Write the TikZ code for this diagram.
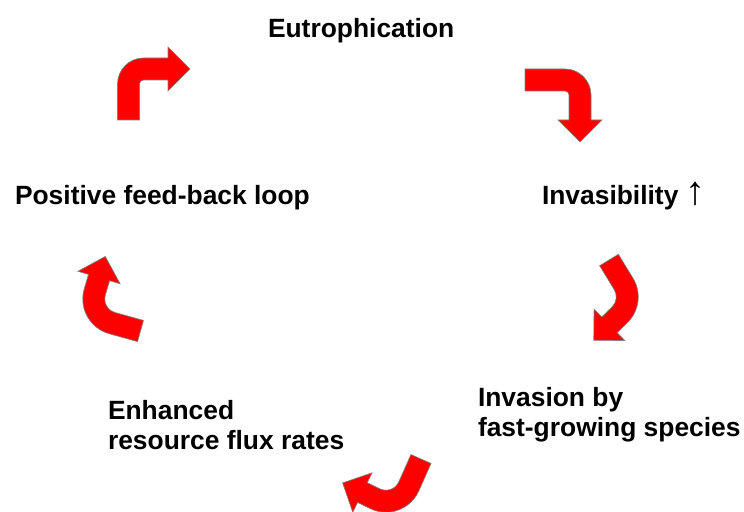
\documentclass[tikz,border=0pt]{standalone}
\usepackage{fontspec}
\setmainfont{Liberation Sans}

\definecolor{arrowred}{RGB}{255,0,0}

% block arrow: tail centre, tail heading, straight part, bend radius, turn, straight part after bend
\newcommand{\bentarrow}[6]{%
  \begin{scope}[shift={#1}, rotate={#2-90}]
    \filldraw[arrowpath] (-11,0) -- ++(0,#3)
      arc[start angle=180, end angle={180-#5}, radius={#4+11}]
      -- ++({90-#5}:#6) -- ++({180-#5}:11) -- ++({45-#5}:31.11)
      -- ++({-45-#5}:31.11) -- ++({180-#5}:11) -- ++({270-#5}:#6)
      arc[start angle={180-#5}, end angle=180, radius={#4-11}]
      -- (11,0) -- cycle;
  \end{scope}}

\begin{document}
\begin{tikzpicture}[x=0.5pt, y=0.5pt]
        \tikzstyle{every node}=[inner sep=0pt, outer sep=0pt, font=\bfseries\fontsize{13.2}{15}\selectfont]
        \tikzstyle{arrowpath}=[fill=arrowred, draw=black!50, line width=0.3pt]
        \useasboundingbox (0,0) rectangle (744,512);
        \node[anchor=base west] (eutro) at (268,474) {Eutrophication};
        \node[anchor=base west] (invasib) at (542,307) {Invasibility {\mdseries\fontsize{20}{20}\selectfont ↑}};
        \node[anchor=base west, align=left] (invasion) at (478,75) {Invasion by\\fast-growing species};
        \node[anchor=base west, align=left] (enhanced) at (108,62) {Enhanced\\resource flux rates};
        \node[anchor=base west] (feedback) at (15,307) {Positive feed-back loop};
        % arrows round the loop
        \bentarrow{(525,432)}{0}{40}{15}{90}{25}
        \bentarrow{(609,252)}{-58.6}{28}{25}{77}{14.4}
        \bentarrow{(421,53)}{-114}{30}{25}{92}{14}
        \bentarrow{(140.5,181)}{164.5}{29.5}{25}{91}{15}
        \bentarrow{(128.5,392)}{90}{36}{15}{90}{24.5}
\end{tikzpicture}
\end{document}
